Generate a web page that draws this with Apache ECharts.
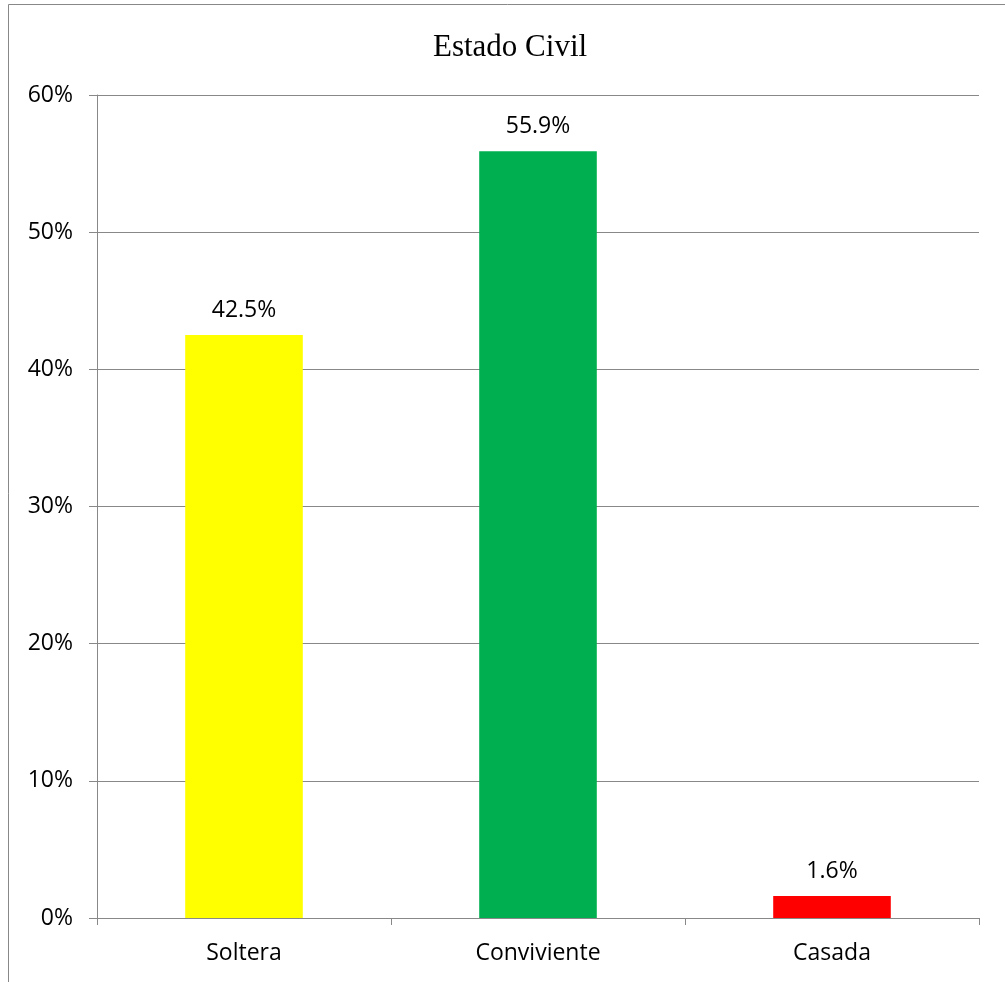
<!DOCTYPE html>
<html>
<head>
<meta charset="utf-8">
<style>
  html, body { margin: 0; padding: 0; background: #fff; }
  #chart { width: 1005px; height: 982px; }
</style>
<script src="https://cdn.jsdelivr.net/npm/echarts@6/dist/echarts.min.js"></script>
</head>
<body>
<div id="chart"></div>
<script>
// Marital status distribution (percent)
const categories = ['Soltera', 'Conviviente', 'Casada'];
const values = [42.5, 55.9, 1.6];
const barColors = ['#FFFF00', '#00B050', '#FF0000'];
const yTicks = [0, 10, 20, 30, 40, 50, 60];

const chart = echarts.init(document.getElementById('chart'), null, { renderer: 'canvas' });

const labelFont = '"Open Sans", "Noto Sans", sans-serif';
const labelSize = 23;

chart.setOption({
  animation: false,
  backgroundColor: '#ffffff',
  title: {
    text: 'Estado Civil',
    left: 428,
    top: 27,
    textStyle: {
      fontFamily: '"Liberation Serif", "DejaVu Serif", serif',
      fontWeight: 'normal',
      fontSize: 31,
      color: '#000'
    }
  },
  graphic: [{
    type: 'rect',
    shape: { x: 8.5, y: 4.5, width: 1100, height: 1100 },
    style: { fill: 'none', stroke: '#888', lineWidth: 1 },
    silent: true
  }],
  grid: { left: 97, right: 26, top: 95, bottom: 64, containLabel: false },
  xAxis: {
    type: 'category',
    data: categories,
    axisLine: { show: true, lineStyle: { color: '#888', width: 1 } },
    axisTick: { show: true, length: 7, alignWithLabel: false, lineStyle: { color: '#888' } },
    axisLabel: { fontFamily: labelFont, fontSize: labelSize, color: '#000', margin: 24 }
  },
  yAxis: {
    type: 'value',
    min: yTicks[0],
    max: yTicks[yTicks.length - 1],
    interval: 10,
    axisLine: { show: true, lineStyle: { color: '#888', width: 1 } },
    axisTick: { show: true, length: 8, inside: false, lineStyle: { color: '#888' } },
    axisLabel: {
      fontFamily: labelFont, fontSize: labelSize, color: '#000', margin: 24,
      formatter: v => v + '%'
    },
    splitLine: { show: true, lineStyle: { color: '#888', width: 1 } }
  },
  series: [{
    type: 'bar',
    barWidth: '40%',
    data: values.map((v, i) => ({ value: v, itemStyle: { color: barColors[i] } })),
    label: {
      show: true,
      position: 'top',
      distance: 13,
      fontFamily: labelFont,
      fontSize: labelSize,
      color: '#000',
      formatter: p => p.value.toFixed(1) + '%'
    }
  }]
});
</script>
</body>
</html>
